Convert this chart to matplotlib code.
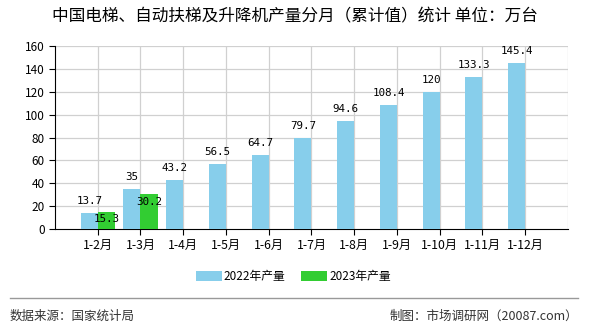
import matplotlib
matplotlib.use("Agg")
import matplotlib.pyplot as plt
import numpy as np

plt.rcParams["font.family"] = ["Noto Sans CJK SC", "DejaVu Sans"]
plt.rcParams["axes.unicode_minus"] = False

# ── Data ───────────────────────────────────────────────
months = ["1-2月", "1-3月", "1-4月", "1-5月", "1-6月", "1-7月",
          "1-8月", "1-9月", "1-10月", "1-11月", "1-12月"]
prod_2022 = [13.7, 35, 43.2, 56.5, 64.7, 79.7, 94.6, 108.4, 120, 133.3, 145.4]
prod_2023 = [15.3, 30.2]
labels_2022 = ["13.7", "35", "43.2", "56.5", "64.7", "79.7", "94.6", "108.4", "120", "133.3", "145.4"]
labels_2023 = ["15.3", "30.2"]

c22 = "#87CEEB"
c23 = "#32CD32"

fig = plt.figure(figsize=(5.9, 3.3), dpi=100)
ax = fig.add_axes([0.0932, 0.306, 0.8695, 0.5546])

x = np.arange(1, len(months) + 1)
w = 0.4
ax.bar(x - w / 2, prod_2022, width=w, color=c22, zorder=3, label="2022年产量")
x23 = x[:len(prod_2023)]
ax.bar(x23 + w / 2, prod_2023, width=w, color=c23, zorder=3, label="2023年产量")

mono = ["DejaVu Sans Mono"]
for xi, v, s in zip(x, prod_2022, labels_2022):
    ax.annotate(s, (xi - w / 2, v), xytext=(0, 5), textcoords="offset points",
                ha="center", va="bottom", fontsize=7.8, family=mono, zorder=5)
for xi, v, s in zip(x23, prod_2023, labels_2023):
    ax.annotate(s, (xi + w / 2, v), xytext=(0, -2), textcoords="offset points",
                ha="center", va="top", fontsize=7.8, family=mono, zorder=5)

ax.set_xlim(0, 12)
ax.set_ylim(0, 160)
ax.set_xticks(x)
ax.set_xticklabels(months, fontsize=8.8)
ax.set_yticks(np.arange(0, 161, 20))
ax.tick_params(axis="y", labelsize=8.5, length=4, direction="out")
ax.tick_params(axis="x", length=4, direction="out", pad=3)

# grid: horizontal at yticks, vertical at category ticks plus right edge
for yv in np.arange(20, 161, 20):
    ax.axhline(yv, color="#d0d0d0", lw=0.9, zorder=1)
for xv in list(x) + [12]:
    ax.axvline(xv, color="#d0d0d0", lw=0.9, zorder=1)

for side in ["top", "right"]:
    ax.spines[side].set_visible(False)
ax.spines["left"].set_color("black")
ax.spines["bottom"].set_color("black")

fig.legend(loc="center", bbox_to_anchor=(0.497, 0.163), ncol=2, frameon=False,
           fontsize=8.5, handlelength=2.2, handleheight=0.9, columnspacing=1.3,
           handletextpad=0.2)

fig.text(0.5, 0.948, "中国电梯、自动扶梯及升降机产量分月（累计值）统计 单位：万台",
         ha="center", va="center", fontsize=12)

fig.add_artist(plt.Line2D([10 / 590, 578 / 590], [1 - 298 / 330, 1 - 298 / 330],
                          color="#999999", lw=1))
fig.text(10 / 590, 1 - 316 / 330, "数据来源：国家统计局", ha="left", va="center",
         fontsize=9, color="#333333")
fig.text(578 / 590, 1 - 316 / 330, "制图：市场调研网（20087.com）", ha="right", va="center",
         fontsize=9, color="#333333")

plt.savefig("out.png", dpi=100)
plt.close()
